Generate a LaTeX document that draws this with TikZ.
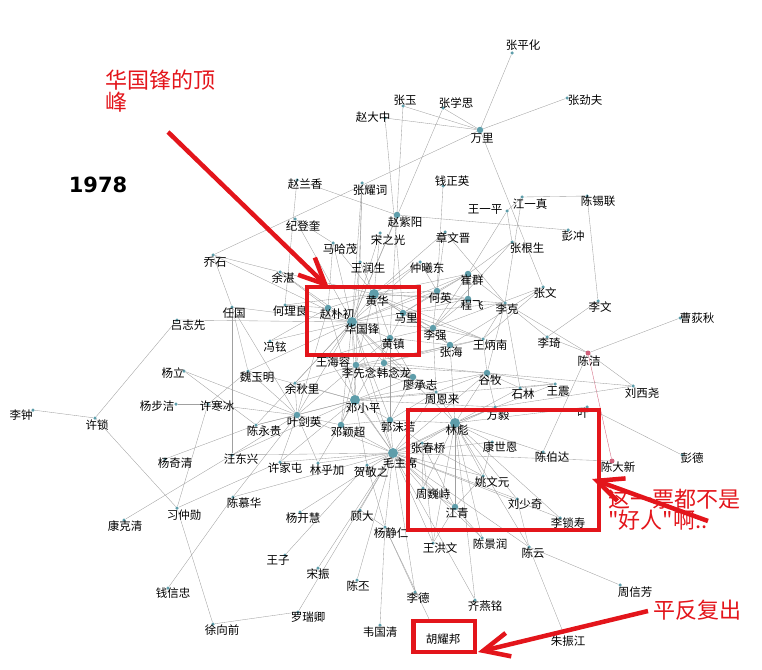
\documentclass[tikz,border=0pt]{standalone}
\usepackage{fontspec}
\newfontfamily\cjk{Noto Sans CJK SC}
\newfontfamily\yearfont{DejaVu Sans}
\usetikzlibrary{arrows.meta, backgrounds}
\definecolor{nodeblue}{HTML}{5E9DAA}
\definecolor{linkgray}{HTML}{A0A0A0}
\definecolor{markred}{HTML}{E3151B}
\definecolor{pinkdot}{HTML}{D0607A}
\tikzset{
    %Define standard arrow tip
    >={Straight Barb[length=26pt,width=24pt]},
}

\begin{document}
\begin{tikzpicture}[x=1pt, y=-1pt,
    dot/.style = {circle, fill=nodeblue, inner sep=0pt, minimum size=3.5pt},
    dotm/.style = {dot, minimum size=6.5pt},
    dotl/.style = {dot, minimum size=10pt},
    pinkdot/.style = {dot, fill=pinkdot, minimum size=5pt},
    tag/.style = {font=\cjk\fontsize{11.5}{12}\selectfont, inner sep=0pt},
    lk/.style = {draw=linkgray, line width=0.35pt},
    redbox/.style = {draw=markred, line width=4.5pt},
    redarrow/.style = {draw=markred, line width=4.5pt, ->},
    note/.style = {text=markred, font=\cjk\fontsize{22}{21}\selectfont,
                   align=left, inner sep=0pt, anchor=base west},
  ]
  \useasboundingbox (0,0) rectangle (762,669);

  % people
  \node[dot] (zph) at (512,53) {};   \node[tag] (zph-t) at (523,45) {张平化};
  \node[dot] (zy) at (403,106) {};   \node[tag] (zy-t) at (405,100) {张玉};
  \node[dot] (zxs) at (443,108) {};  \node[tag] (zxs-t) at (456,103) {张学思};
  \node[dot] (zdz) at (385,118) {};  \node[tag] (zdz-t) at (373,117) {赵大中};
  \node[dotm] (wl) at (480,130) {};  \node[tag] (wl-t) at (482,138) {万里};
  \node[dot] (zjf) at (567,98) {};   \node[tag] (zjf-t) at (585,100) {张劲夫};
  \node[dot] (zlx) at (297,180) {};  \node[tag] (zlx-t) at (305,184) {赵兰香};
  \node[dot] (zyc) at (362,183) {};  \node[tag] (zyc-t) at (370,190) {张耀词};
  \node[dot] (qzy) at (443,186) {};  \node[tag] (qzy-t) at (452,181) {钱正英};
  \node[dot] (wyp) at (507,211) {};  \node[tag] (wyp-t) at (485,210) {王一平};
  \node[dot] (jyz) at (522,197) {};  \node[tag] (jyz-t) at (530,204) {江一真};
  \node[dot] (cxl) at (587,196) {};  \node[tag] (cxl-t) at (598,201) {陈锡联};
  \node[dotm] (zzy) at (397,215) {}; \node[tag] (zzy-t) at (405,222) {赵紫阳};
  \node[dot] (jdk) at (295,219) {};  \node[tag] (jdk-t) at (303,226) {纪登奎};
  \node[dot] (pc) at (568,230) {};   \node[tag] (pc-t) at (573,236) {彭冲};
  \node[dot] (zwj) at (445,232) {};  \node[tag] (zwj-t) at (453,238) {章文晋};
  \node[dot] (zgs) at (512,242) {};  \node[tag] (zgs-t) at (527,248) {张根生};
  \node[dot] (szg) at (380,233) {};  \node[tag] (szg-t) at (388,240) {宋之光};
  \node[dot] (mhm) at (333,243) {};  \node[tag] (mhm-t) at (340,249) {马哈茂};
  \node[dot] (qs) at (213,255) {};   \node[tag] (qs-t) at (215,262) {乔石};
  \node[dot] (wrs) at (360,262) {};  \node[tag] (wrs-t) at (368,268) {王润生};
  \node[dot] (zxd) at (420,262) {};  \node[tag] (zxd-t) at (427,268) {仲曦东};
  \node[dot] (yz) at (280,272) {};   \node[tag] (yz-t) at (283,278) {余湛};
  \node[dotm] (cq) at (468,274) {};  \node[tag] (cq-t) at (472,280) {崔群};
  \node[dot] (zw) at (543,287) {};   \node[tag] (zw-t) at (545,293) {张文};
  \node[dotm] (hy) at (437,291) {};  \node[tag] (hy-t) at (440,298) {何英};
  \node[dotl] (hh) at (374,294) {};  \node[tag] (hh-t) at (377,301) {黄华};
  \node[dotm] (cf) at (468,299) {};  \node[tag] (cf-t) at (472,305) {程飞};
  \node[dot] (lk) at (505,303) {};   \node[tag] (lk-t) at (507,309) {李克};
  \node[dot] (lw) at (598,301) {};   \node[tag] (lw-t) at (600,307) {李文};
  \node[dot] (cdq) at (680,318) {};  \node[tag] (cdq-t) at (697,318) {曹荻秋};
  \node[dot] (rg) at (232,307) {};   \node[tag] (rg-t) at (234,313) {任国};
  \node[dot] (hll) at (285,305) {};  \node[tag] (hll-t) at (290,311) {何理良};
  \node[dot] (lzx) at (177,320) {};  \node[tag] (lzx-t) at (188,325) {吕志先};
  \node[dotm] (zpc) at (328,308) {}; \node[tag] (zpc-t) at (337,314) {赵朴初};
  \node[dotm] (ml) at (403,313) {};  \node[tag] (ml-t) at (406,318) {马里};
  \node[dotl] (hgf) at (352,322) {}; \node[tag] (hgf-t) at (362,329) {华国锋};
  \node[dotm] (lq) at (433,328) {};  \node[tag] (lq-t) at (435,335) {李强};
  \node[dotm] (hz) at (390,338) {};  \node[tag] (hz-t) at (393,344) {黄镇};
  \node[dot] (wbn) at (483,339) {};  \node[tag] (wbn-t) at (490,345) {王炳南};
  \node[dot] (lqi) at (547,337) {};  \node[tag] (lqi-t) at (549,343) {李琦};
  \node[dotm] (zh) at (450,345) {};  \node[tag] (zh-t) at (451,352) {张海};
  \node[dot] (fx) at (270,341) {};   \node[tag] (fx-t) at (275,347) {冯铉};
  \node[pinkdot] (cj) at (588,353) {}; \node[tag] (cj-t) at (589,361) {陈洁};
  \node[dot] (whr) at (327,357) {};  \node[tag] (whr-t) at (333,362) {王海容};
  \node[dotm] (lxn) at (356,365) {}; \node[tag] (lxn-t) at (359,373) {李先念};
  \node[dotm] (hnl) at (384,363) {}; \node[tag] (hnl-t) at (394,373) {韩念龙};
  \node[dot] (yl) at (184,371) {};   \node[tag] (yl-t) at (173,373) {杨立};
  \node[dot] (wym) at (248,371) {};  \node[tag] (wym-t) at (257,377) {魏玉明};
  \node[dotm] (gm) at (487,373) {};  \node[tag] (gm-t) at (490,380) {谷牧};
  \node[dotm] (lcz) at (413,377) {}; \node[tag] (lcz-t) at (420,385) {廖承志};
  \node[dot] (yql) at (295,383) {};  \node[tag] (yql-t) at (302,389) {余秋里};
  \node[dot] (lxy) at (633,386) {};  \node[tag] (lxy-t) at (642,393) {刘西尧};
  \node[dot] (wz) at (555,384) {};   \node[tag] (wz-t) at (558,391) {王震};
  \node[dot] (sl) at (520,388) {};   \node[tag] (sl-t) at (523,394) {石林};
  \node[dot] (zel) at (436,392) {};  \node[tag] (zel-t) at (442,399) {周恩来};
  \node[dotl] (dxp) at (355,400) {}; \node[tag] (dxp-t) at (363,408) {邓小平};
  \node[dot] (ybj) at (176,404) {};  \node[tag] (ybj-t) at (157,406) {杨步洁};
  \node[dot] (xhb) at (208,404) {};  \node[tag] (xhb-t) at (217,406) {许寒冰};
  \node[dot] (fy) at (495,407) {};   \node[tag] (fy-t) at (498,415) {方毅};
  \node[dot] (ye) at (587,407) {};   \node[tag] (ye-t) at (583,413) {叶};
  \node[dot] (lz) at (33,410) {};    \node[tag] (lz-t) at (21,415) {李钟};
  \node[dotm] (yjy) at (297,415) {}; \node[tag] (yjy-t) at (304,422) {叶剑英};
  \node[dot] (xs) at (95,418) {};    \node[tag] (xs-t) at (97,425) {许锁};
  \node[dotm] (gmr) at (390,420) {}; \node[tag] (gmr-t) at (398,427) {郭沫若};
  \node[dotl] (lb) at (455,423) {};  \node[tag] (lb-t) at (457,430) {林彪};
  \node[dot] (cyg) at (256,425) {};  \node[tag] (cyg-t) at (264,431) {陈永贵};
  \node[dotm] (dyc) at (341,425) {}; \node[tag] (dyc-t) at (348,432) {邓颖超};
  \node[dot] (zcq) at (422,443) {};  \node[tag] (zcq-t) at (428,448) {张春桥};
  \node[dot] (ksn) at (492,442) {};  \node[tag] (ksn-t) at (500,447) {康世恩};
  \node[dot] (cbd) at (543,452) {};  \node[tag] (cbd-t) at (552,457) {陈伯达};
  \node[dotl] (mzx) at (393,453) {}; \node[tag] (mzx-t) at (400,463) {毛主席};
  \node[dot] (pd) at (682,455) {};   \node[tag] (pd-t) at (692,458) {彭德};
  \node[dot] (wdx) at (232,455) {};  \node[tag] (wdx-t) at (241,459) {汪东兴};
  \node[pinkdot] (cdx) at (612,461) {}; \node[tag] (cdx-t) at (618,467) {陈大新};
  \node[dot] (yqq) at (165,459) {};  \node[tag] (yqq-t) at (175,463) {杨奇清};
  \node[dot] (xjt) at (280,462) {};  \node[tag] (xjt-t) at (285,468) {许家屯};
  \node[dot] (lhj) at (318,463) {};  \node[tag] (lhj-t) at (327,470) {林乎加};
  \node[dot] (hjz) at (367,465) {};  \node[tag] (hjz-t) at (371,472) {贺敬之};
  \node[dot] (ywy) at (483,476) {};  \node[tag] (ywy-t) at (492,482) {姚文元};
  \node[dot] (zwq) at (423,488) {};  \node[tag] (zwq-t) at (433,494) {周巍峙};
  \node[dot] (cmh) at (233,497) {};  \node[tag] (cmh-t) at (244,503) {陈慕华};
  \node[dot] (lsq) at (517,499) {};  \node[tag] (lsq-t) at (525,504) {刘少奇};
  \node[dotm] (jq) at (455,507) {};  \node[tag] (jq-t) at (457,513) {江青};
  \node[dot] (xzx) at (177,508) {};  \node[tag] (xzx-t) at (184,515) {习仲勋};
  \node[dot] (gd) at (360,510) {};   \node[tag] (gd-t) at (362,516) {顾大};
  \node[dot] (ykh) at (300,512) {};  \node[tag] (ykh-t) at (303,518) {杨开慧};
  \node[dot] (lss) at (560,518) {};  \node[tag] (lss-t) at (568,523) {李锁寿};
  \node[dot] (kkq) at (124,520) {};  \node[tag] (kkq-t) at (125,526) {康克清};
  \node[dot] (yjr) at (385,527) {};  \node[tag] (yjr-t) at (391,533) {杨静仁};
  \node[dot] (cjr) at (482,538) {};  \node[tag] (cjr-t) at (490,544) {陈景润};
  \node[dot] (whw) at (433,543) {};  \node[tag] (whw-t) at (440,548) {王洪文};
  \node[dot] (cy) at (529,547) {};   \node[tag] (cy-t) at (533,553) {陈云};
  \node[dot] (wzi) at (285,555) {};  \node[tag] (wzi-t) at (278,560) {王子};
  \node[dot] (sz) at (318,568) {};   \node[tag] (sz-t) at (318,574) {宋振};
  \node[dot] (cp) at (357,580) {};   \node[tag] (cp-t) at (358,586) {陈丕};
  \node[dot] (zxf) at (620,585) {};  \node[tag] (zxf-t) at (635,592) {周信芳};
  \node[dot] (qxz) at (168,588) {};  \node[tag] (qxz-t) at (173,593) {钱信忠};
  \node[dot] (ld) at (415,592) {};   \node[tag] (ld-t) at (418,598) {李德};
  \node[dot] (qym) at (475,600) {};  \node[tag] (qym-t) at (485,606) {齐燕铭};
  \node[dot] (lrq) at (298,612) {};  \node[tag] (lrq-t) at (308,617) {罗瑞卿};
  \node[dot] (xxq) at (213,624) {};  \node[tag] (xxq-t) at (222,630) {徐向前};
  \node[dot] (wgq) at (380,625) {};  \node[tag] (wgq-t) at (380,632) {韦国清};
  \node[dot] (hyb) at (430,621) {};  \node[tag] (hyb-t) at (443,639) {胡耀邦};
  \node[dot] (zzj) at (563,632) {};  \node[tag] (zzj-t) at (568,641) {朱振江};

  \node[font=\yearfont\bfseries\fontsize{21}{21}\selectfont] (year) at (98,185) {1978};

  % links
  \begin{scope}[on background layer]
    \draw[lk] (wl) edge (zph) edge (zjf) edge (zy) edge (zxs) edge (zdz) edge (qs) edge (zw);
    \draw[lk] (zy) edge (hz);
    \draw[lk] (zxs) edge (hgf);
    \draw[lk] (zdz) edge (ml);
    \draw[lk] (zlx) edge (zzy) edge (hll);
    \draw[lk] (zyc) edge (wrs) edge (hgf) edge (lxn);
    \draw[lk] (qzy) edge (hy);
    \draw[lk] (jyz) edge (cxl) edge (wyp) edge (lk);
    \draw[lk] (zzy) edge (pc);
    \draw[lk] (wyp) edge (zgs) edge (cq);
    \draw[lk] (cxl) edge (lw);
    \draw[lk] (lw) edge (lqi);
    \draw[lk] (cdq) edge (cj);
    \draw[lk] (cj) edge (lk) edge (lxy) edge (cbd) edge (lqi);
    \draw[lk, draw=pinkdot] (cj) edge (cdx);
    \draw[lk] (ye) edge (pd) edge (lb);
    \draw[lk] (lxy) edge (fy) edge (gm);
    \draw[lk] (cdx) edge (mzx);
    \draw[lk] (cy) edge (zxf) edge (zzj) edge (lsq) edge (mzx);
    \draw[lk] (yjr) edge (hyb) edge (ld) edge (wgq) edge (gd) edge (hjz);
    \draw[lk] (ld) edge (mzx);
    \draw[lk] (qym) edge (lb);
    \draw[lk] (mzx) edge (cp) edge (sz) edge (lrq);
    \draw[lk] (lrq) edge (xxq);
    \draw[lk] (wzi) edge (hjz);
    \draw[lk] (qxz) edge (cmh);
    \draw[lk] (kkq) edge (wdx);
    \draw[lk] (xzx) edge (xs) edge (xhb) edge (xjt) edge (xxq);
    \draw[lk] (xs) edge (lz) edge (lzx);
    \draw[lk] (yl) edge (cyg) edge (yjy);
    \draw[lk] (ybj) edge (xhb);
    \draw[lk] (xhb) edge (wym) edge (yjy);
    \draw[lk] (yqq) edge (cyg);
    \draw[lk] (lzx) edge (hgf);
    \draw[lk] (rg) edge (wym) edge (yjy) edge (wdx);
    \draw[lk] (qs) edge (yz) edge (rg) edge (hgf);
    \draw[lk] (jdk) edge (mhm) edge (hgf);
    \draw[lk] (zgs) edge (cq) edge (lq);
    \draw[lk] (zwj) edge (hh) edge (hy) edge (lk);
    \draw[lk] (zw) edge (wbn) edge (zh) edge (lq);
    \draw[lk] (hgf) edge (hh) edge (ml) edge (hz) edge (zpc) edge (hll) edge (yz)
      edge (mhm) edge (wrs) edge (szg) edge (zzy) edge (fx) edge (whr) edge (lxn)
      edge (hnl) edge (dxp) edge (yjy) edge (mzx) edge (lb) edge (lq) edge (hy)
      edge (cq) edge (zxd) edge (gmr) edge (lcz) edge (wym) edge (rg) edge (yql)
      edge (cyg) edge (dyc);
    \draw[lk] (hh) edge (ml) edge (hz) edge (zpc) edge (hll) edge (wrs) edge (zxd)
      edge (hy) edge (cq) edge (cf) edge (lk) edge (lq) edge (lxn) edge (hnl)
      edge (mhm) edge (szg) edge (yz) edge (zh) edge (wbn);
    \draw[lk] (ml) edge (hz) edge (lq) edge (hy) edge (zh) edge (wbn) edge (cf)
      edge (lk) edge (cq);
    \draw[lk] (hz) edge (lq) edge (zh) edge (lxn) edge (dxp) edge (gmr) edge (lcz)
      edge (whr) edge (hnl);
    \draw[lk] (zpc) edge (hll) edge (yz) edge (fx) edge (dxp) edge (yjy) edge (mhm);
    \draw[lk] (lxn) edge (dxp) edge (yjy) edge (hnl) edge (lcz) edge (wbn) edge (gm)
      edge (zel) edge (mzx) edge (yql) edge (dyc) edge (whr);
    \draw[lk] (hnl) edge (lcz) edge (zel) edge (gm) edge (wbn) edge (zh);
    \draw[lk] (dxp) edge (yjy) edge (mzx) edge (gmr) edge (lcz) edge (zel) edge (dyc)
      edge (yql) edge (wdx) edge (xjt) edge (lhj) edge (hjz) edge (gm) edge (wz)
      edge (fy) edge (cyg) edge (wym);
    \draw[lk] (yjy) edge (mzx) edge (cyg) edge (wym) edge (xjt) edge (cmh) edge (wdx)
      edge (yql) edge (dyc) edge (lhj);
    \draw[lk] (mzx) edge (lb) edge (zel) edge (gmr) edge (zcq) edge (jq) edge (ywy)
      edge (zwq) edge (whw) edge (yjr) edge (gd) edge (hjz) edge (lhj) edge (ykh)
      edge (xjt) edge (wdx) edge (cmh) edge (dyc) edge (lss) edge (lsq) edge (cjr)
      edge (ksn) edge (fy) edge (gm) edge (whr) edge (qym);
    \draw[lk] (lb) edge (zcq) edge (ksn) edge (cbd) edge (ywy) edge (jq) edge (zwq)
      edge (lsq) edge (fy) edge (gmr) edge (zel) edge (gm) edge (sl) edge (wz)
      edge (cjr) edge (whw) edge (lss) edge (cy) edge (zh);
    \draw[lk] (gmr) edge (zel) edge (lcz) edge (dyc) edge (zcq);
    \draw[lk] (zel) edge (gm) edge (lcz) edge (lq);
    \draw[lk] (lq) edge (zh) edge (wbn) edge (cq) edge (cf) edge (hy);
    \draw[lk] (hy) edge (cq) edge (cf) edge (zxd);
    \draw[lk] (cq) edge (cf) edge (lk);
    \draw[lk] (lk) edge (wbn) edge (lqi) edge (sl) edge (gm);
    \draw[lk] (gm) edge (sl) edge (wz) edge (fy) edge (wbn);
    \draw[lk] (zcq) edge (jq) edge (ywy) edge (zwq) edge (whw);
    \draw[lk] (jq) edge (ywy) edge (whw) edge (zwq) edge (cjr);
    \draw[lk] (ksn) edge (ywy);
    \draw[lk] (sl) edge (wz);
  \end{scope}

  % marks
  \draw[redbox] (307,287) rectangle (419,355);
  \draw[redbox] (408,410) rectangle (599,530);
  \draw[redbox] (413.5,621) rectangle (475,652);

  \node[note] (peak) at (105,110) {华国锋的顶\\峰};
  \node[note] (bad) at (608,528) {这一票都不是\\"好人"啊..};
  \node[note] (back) at (653,618) {平反复出};

  \coordinate (peak-s) at (168,132);
  \coordinate (peak-e) at (329,288);
  \coordinate (bad-s) at (708,521);
  \coordinate (bad-e) at (592,479);
  \coordinate (back-s) at (648,611);
  \coordinate (back-e) at (478,652);
  \draw[redarrow] (peak-s) -- (peak-e);
  \draw[redarrow] (bad-s) -- (bad-e);
  \draw[redarrow] (back-s) -- (back-e);
\end{tikzpicture}
\end{document}
